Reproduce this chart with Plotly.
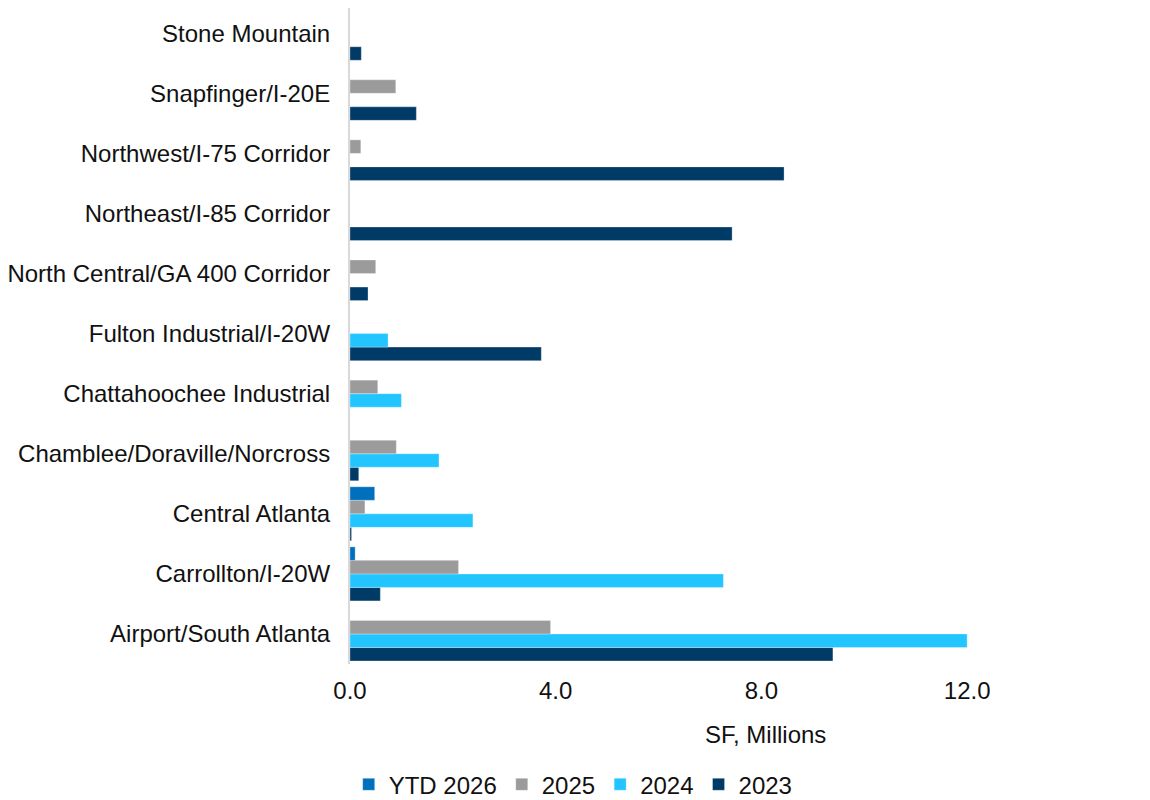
import plotly.graph_objects as go

categories = [
    "Airport/South Atlanta",
    "Carrollton/I-20W",
    "Central Atlanta",
    "Chamblee/Doraville/Norcross",
    "Chattahoochee Industrial",
    "Fulton Industrial/I-20W",
    "North Central/GA 400 Corridor",
    "Northeast/I-85 Corridor",
    "Northwest/I-75 Corridor",
    "Snapfinger/I-20E",
    "Stone Mountain",
]

vals_2023 = [9.39, 0.59, 0.03, 0.17, 0.0, 3.72, 0.35, 7.43, 8.44, 1.29, 0.22]
vals_2024 = [12.0, 7.26, 2.39, 1.73, 1.0, 0.74, 0.0, 0.0, 0.0, 0.0, 0.0]
vals_2025 = [3.9, 2.11, 0.29, 0.90, 0.54, 0.0, 0.50, 0.0, 0.21, 0.89, 0.0]
vals_ytd2026 = [0.0, 0.10, 0.48, 0.0, 0.0, 0.0, 0.0, 0.0, 0.0, 0.0, 0.0]

x_ticks = [0, 4, 8, 12]
x_tick_labels = ["0.0", "4.0", "8.0", "12.0"]

series = [
    ("2023", vals_2023, "#003A66"),
    ("2024", vals_2024, "#22C5FF"),
    ("2025", vals_2025, "#9B9B9B"),
    ("YTD 2026", vals_ytd2026, "#0070BD"),
]

FONT = "Liberation Sans, Arial, sans-serif"

fig = go.Figure()
for name, vals, color in series:
    fig.add_trace(go.Bar(
        y=categories, x=vals, name=name, orientation="h",
        marker=dict(color=color, line=dict(color="rgba(255,255,255,0.6)", width=0.5)),
    ))

fig.update_layout(
    width=1150, height=800,
    margin=dict(l=342, r=88, t=0, b=144),
    paper_bgcolor="white", plot_bgcolor="white",
    barmode="group", bargap=0.1, bargroupgap=0,
    font=dict(family=FONT, size=24, color="#111111"),
    showlegend=True,
    legend=dict(
        orientation="h", traceorder="reversed",
        x=0.31, xanchor="center", y=-0.184, yanchor="middle",
        font=dict(size=24), itemwidth=30,
    ),
    xaxis=dict(
        range=[0, 14], tickvals=x_ticks, ticktext=x_tick_labels,
        showgrid=False, zeroline=False, showline=False, ticks="",
        ticklabelstandoff=10, automargin=False,
    ),
    yaxis=dict(
        range=[-0.5, 10.42], automargin=False,
        showgrid=False, zeroline=False, showline=True, linecolor="#d9d9d9", linewidth=2,
        ticks="", ticklabelstandoff=13,
    ),
    annotations=[dict(
        text="SF, Millions", xref="paper", yref="paper", x=0.5766, y=-0.108,
        xanchor="center", yanchor="middle", showarrow=False, font=dict(size=24),
    )],
)

fig.write_html("out.html")
